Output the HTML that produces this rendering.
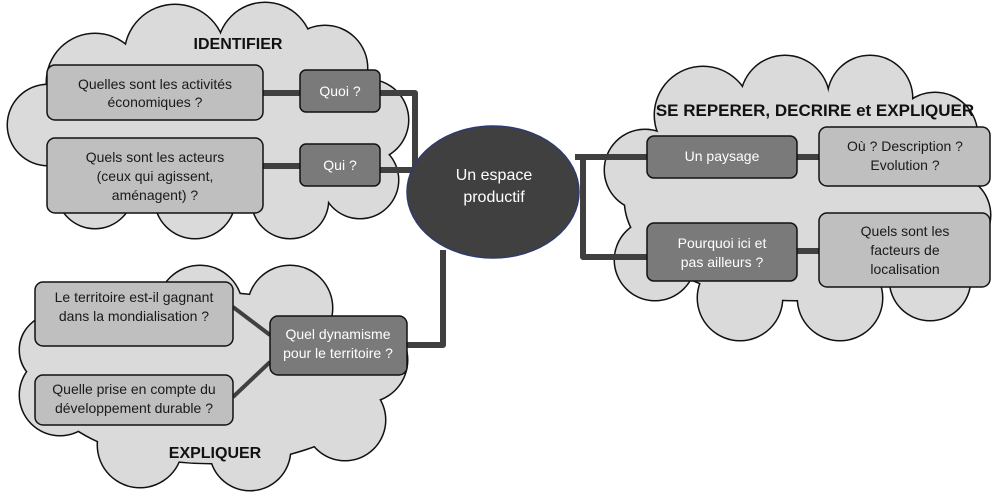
<!DOCTYPE html>
<html><head><meta charset="utf-8"><style>
html,body{margin:0;padding:0;background:#fff;width:1003px;height:498px;overflow:hidden}
svg text{font-family:"Liberation Sans",Arial,sans-serif}
.t{font-size:14px;fill:#1a1a1a;text-anchor:middle}
.w{font-size:14px;fill:#fff;text-anchor:middle}
.h{font-size:16px;font-weight:bold;fill:#111;text-anchor:middle}
</style></head><body>
<svg width="1003" height="498" viewBox="0 0 1003 498" xmlns="http://www.w3.org/2000/svg">
<defs>
<g id="c1">
<ellipse cx="207" cy="125" rx="175" ry="80"/>
<circle cx="95" cy="82" r="48"/><circle cx="175" cy="55" r="50"/><circle cx="265" cy="50" r="47"/><circle cx="325" cy="68" r="42"/><circle cx="368" cy="120" r="40"/><circle cx="360" cy="180" r="38"/><circle cx="290" cy="200" r="38"/><circle cx="195" cy="198" r="40"/><circle cx="95" cy="190" r="38"/><circle cx="48" cy="125" r="40"/>
</g>
<g id="c2">
<ellipse cx="212" cy="378" rx="170" ry="85"/>
<circle cx="120" cy="325" r="42"/><circle cx="200" cy="308" r="42"/><circle cx="290" cy="308" r="42"/><circle cx="365" cy="360" r="42"/><circle cx="345" cy="420" r="40"/><circle cx="250" cy="450" r="40"/><circle cx="140" cy="445" r="42"/><circle cx="60" cy="395" r="40"/><circle cx="55" cy="350" r="35"/>
</g>
<g id="c3">
<ellipse cx="795" cy="200" rx="170" ry="100"/>
<circle cx="703" cy="115" r="48"/><circle cx="785" cy="100" r="44"/><circle cx="870" cy="98" r="42"/><circle cx="935" cy="135" r="42"/><circle cx="950" cy="215" r="40"/><circle cx="930" cy="280" r="40"/><circle cx="840" cy="298" r="42"/><circle cx="740" cy="298" r="42"/><circle cx="655" cy="260" r="40"/><circle cx="645" cy="170" r="40"/>
</g>
</defs>
<g stroke="#111" stroke-width="3" fill="#111"><use href="#c1"/><use href="#c2"/><use href="#c3"/></g>
<g fill="#dadada"><use href="#c1"/><use href="#c2"/><use href="#c3"/></g>

<g stroke="#404040" stroke-width="6" fill="none" stroke-linejoin="round">
<path d="M263 93 H300 M380 93 H415 V168 M380 170 H420"/>
<path d="M263 166 H300"/>
<path d="M407 345 H443 V250"/>
<path d="M575 157 H647 M647 257 H583 V157"/>
<path d="M797 157 H819 M797 251 H819"/>
</g>
<g stroke="#404040" stroke-width="4"><line x1="233" y1="307" x2="270" y2="335"/><line x1="233" y1="397" x2="270" y2="362"/></g>

<ellipse cx="493" cy="192" rx="86" ry="66" fill="#404040" stroke="#2e3b70" stroke-width="1.5"/>
<text class="w" x="494" y="180" style="font-size:16px">Un espace</text>
<text class="w" x="494" y="202" style="font-size:16px">productif</text>

<g stroke="#111" stroke-width="1.5">
<rect x="47" y="65" width="216" height="55" rx="8" fill="#bfbfbf"/>
<rect x="47" y="138" width="216" height="75" rx="8" fill="#bfbfbf"/>
<rect x="300" y="70" width="80" height="42" rx="6" fill="#7a7a7a"/>
<rect x="300" y="144" width="80" height="42" rx="6" fill="#7a7a7a"/>
<rect x="35" y="282" width="198" height="64" rx="8" fill="#bfbfbf"/>
<rect x="35" y="375" width="198" height="50" rx="8" fill="#bfbfbf"/>
<rect x="270" y="316" width="137" height="59" rx="8" fill="#7a7a7a"/>
<rect x="647" y="136" width="150" height="42" rx="7" fill="#7a7a7a"/>
<rect x="647" y="223" width="150" height="58" rx="7" fill="#7a7a7a"/>
<rect x="819" y="127" width="171" height="59" rx="8" fill="#bfbfbf"/>
<rect x="819" y="213" width="171" height="74" rx="8" fill="#bfbfbf"/>
</g>

<text class="h" x="238" y="49">IDENTIFIER</text>
<text class="h" x="215" y="458">EXPLIQUER</text>
<text class="h" x="815" y="116" style="font-size:17px">SE REPERER, DECRIRE et EXPLIQUER</text>

<text class="t" x="155" y="89">Quelles sont les activités</text>
<text class="t" x="155" y="107">économiques ?</text>
<text class="t" x="155" y="162">Quels sont les acteurs</text>
<text class="t" x="155" y="181">(ceux qui agissent,</text>
<text class="t" x="155" y="200">aménagent) ?</text>
<text class="w" x="340" y="96">Quoi ?</text>
<text class="w" x="340" y="170">Qui ?</text>
<text class="t" x="134" y="302">Le territoire est-il gagnant</text>
<text class="t" x="134" y="321">dans la mondialisation ?</text>
<text class="t" x="134" y="394">Quelle prise en compte du</text>
<text class="t" x="134" y="413">développement durable ?</text>
<text class="w" x="338" y="339">Quel dynamisme</text>
<text class="w" x="338" y="358">pour le territoire ?</text>
<text class="w" x="722" y="161">Un paysage</text>
<text class="w" x="722" y="248">Pourquoi ici et</text>
<text class="w" x="722" y="267">pas ailleurs ?</text>
<text class="t" x="905" y="151">Où ? Description ?</text>
<text class="t" x="905" y="170">Evolution ?</text>
<text class="t" x="905" y="236">Quels sont les</text>
<text class="t" x="905" y="255">facteurs de</text>
<text class="t" x="905" y="274">localisation</text>
</svg>
</body></html>
